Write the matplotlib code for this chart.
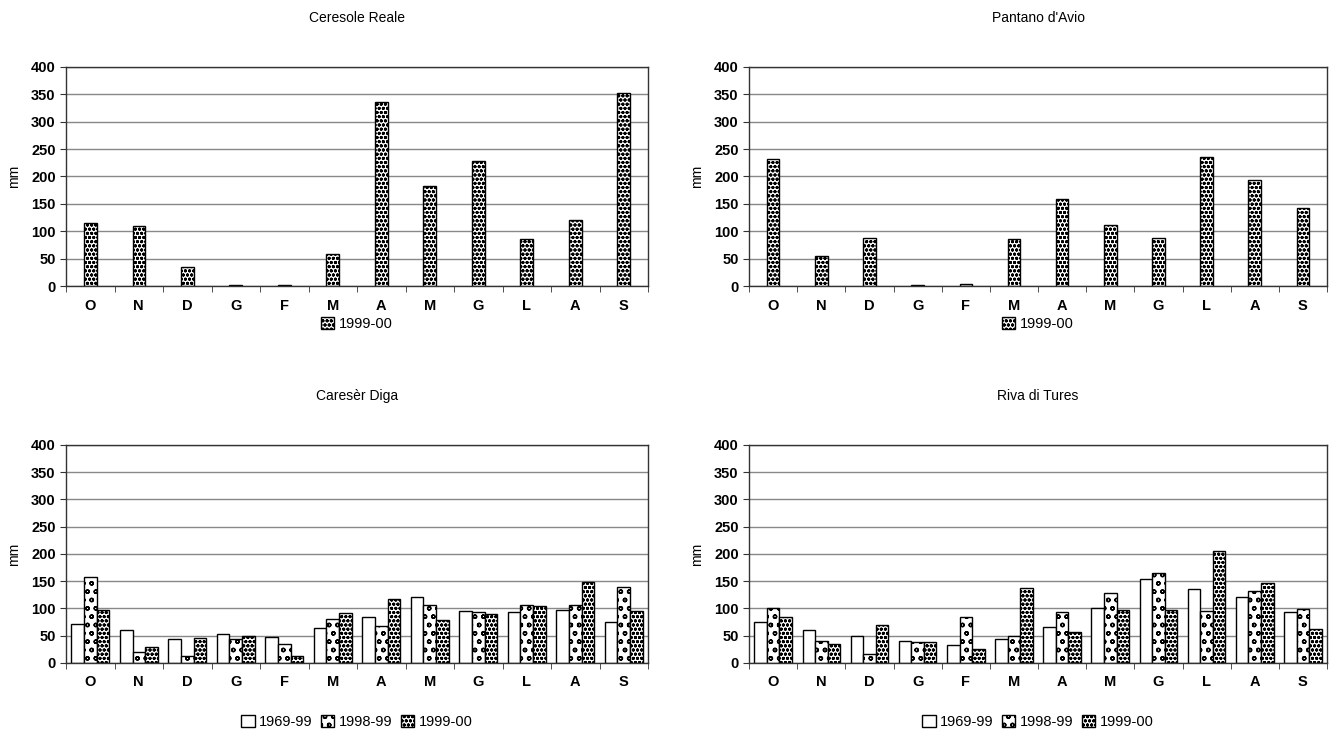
import matplotlib.pyplot as plt
import matplotlib.patches as mpatches
import numpy as np

plt.rcParams['font.family'] = ['Liberation Sans', 'DejaVu Sans']
plt.rcParams['hatch.linewidth'] = 1.0

mesi = ['O', 'N', 'D', 'G', 'F', 'M', 'A', 'M', 'G', 'L', 'A', 'S']

# Ceresole Reale 1999-00
ceresole = [115, 110, 35, 2, 2, 59, 336, 183, 228, 85, 120, 352]
# Pantano d'Avio 1999-00
pantano = [232, 55, 87, 1, 4, 85, 158, 112, 88, 235, 193, 143]

# Caresèr Diga
careser_6999 = [72, 60, 44, 54, 48, 64, 84, 121, 96, 93, 97, 75]
careser_9899 = [158, 21, 12, 44, 35, 80, 67, 106, 93, 106, 107, 140]
careser_9900 = [98, 30, 46, 49, 13, 91, 117, 78, 90, 104, 149, 96]

# Riva di Tures
riva_6999 = [75, 60, 49, 41, 33, 44, 66, 101, 155, 136, 121, 93]
riva_9899 = [101, 40, 17, 38, 85, 50, 94, 128, 165, 95, 132, 99]
riva_9900 = [85, 35, 69, 38, 26, 138, 56, 98, 98, 206, 146, 62]

anni = ['1969-99', '1998-99', '1999-00']
tratteggi = ['', 'oo', 'oooo']

fig = plt.figure(figsize=(13.4, 7.36), dpi=100)

x = np.arange(len(mesi))


def prepara(ax):
    ax.set_xlim(-0.5, 11.5)
    ax.set_ylim(0, 400)
    ax.set_yticks(range(0, 401, 50))
    ax.set_xticks(x)
    ax.set_xticklabels(mesi)
    ax.set_xticks(np.arange(-0.5, 12, 1), minor=True)
    ax.tick_params(axis='x', which='major', length=0, pad=9, labelsize=10.5)
    ax.tick_params(axis='x', which='minor', length=4, direction='out', color='#333333')
    ax.tick_params(axis='y', length=4, direction='out', labelsize=10.5, color='#333333')
    for t in ax.get_xticklabels() + ax.get_yticklabels():
        t.set_fontweight('bold')
    ax.yaxis.grid(True, color='#888888', linewidth=1.0)
    ax.set_axisbelow(True)
    for s in ax.spines.values():
        s.set_color('#333333')
        s.set_linewidth(1.0)
    ax.set_ylabel('mm', fontsize=10, labelpad=7)


def legenda(y, xc, n):
    # legend under the panel
    handles = []
    for i in range(3 - n, 3):
        handles.append(mpatches.Patch(facecolor='white', edgecolor='black',
                                      hatch=tratteggi[i], label=anni[i]))
    fig.legend(handles=handles, loc='center', bbox_to_anchor=(xc, y),
               ncol=n, frameon=False, fontsize=10.5, handlelength=0.9,
               handleheight=0.9, handletextpad=0.3, columnspacing=0.6)


pannelli = [
    ([0.0493, 0.6114, 0.4343, 0.2976], 'Ceresole Reale', [ceresole], 0.560),
    ([0.5590, 0.6114, 0.4313, 0.2976], "Pantano d'Avio", [pantano], 0.560),
    ([0.0493, 0.0992, 0.4343, 0.2962], 'Caresèr Diga', [careser_6999, careser_9899, careser_9900], 0.019),
    ([0.5590, 0.0992, 0.4313, 0.2962], 'Riva di Tures', [riva_6999, riva_9899, riva_9900], 0.019),
]

for pos, titolo, serie, yleg in pannelli:
    ax = fig.add_axes(pos)
    prepara(ax)
    n = len(serie)
    w = 0.26
    for k, valori in enumerate(serie):
        h = tratteggi[3 - n + k]
        off = (k - (n - 1) / 2) * w
        ax.bar(x + off, valori, width=w, color='white', edgecolor='black',
               linewidth=1.0, hatch=h)
    xc = pos[0] + pos[2] / 2
    ytit = pos[1] + pos[3] + 0.066
    fig.text(xc, ytit, titolo, ha='center', va='center', fontsize=10)
    legenda(yleg, xc, n)

plt.savefig('out.png', dpi=100)
